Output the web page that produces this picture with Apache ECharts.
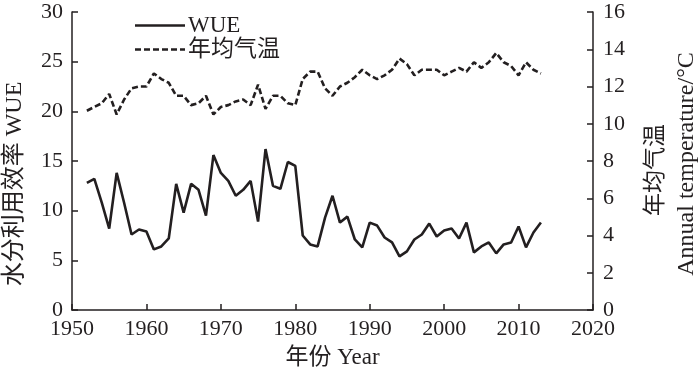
<!DOCTYPE html>
<html><head><meta charset="utf-8">
<script src="https://cdn.jsdelivr.net/npm/echarts@6/dist/echarts.min.js"></script>
<style>html,body{margin:0;padding:0;background:#fff}#c{width:700px;height:375px}</style>
</head><body><div id="c"></div>
<script>
var years = [];
for (var y = 1952; y <= 2013; y++) years.push(y);
var wue = [12.8,13.2,10.8,8.2,13.8,10.8,7.6,8.1,7.9,6.1,6.4,7.2,12.7,9.8,12.7,12.1,9.5,15.6,13.8,13.0,11.5,12.1,13.0,8.9,16.2,12.5,12.2,14.9,14.5,7.5,6.6,6.4,9.3,11.5,8.8,9.4,7.1,6.3,8.8,8.5,7.3,6.8,5.4,5.9,7.1,7.6,8.7,7.4,8.0,8.2,7.2,8.8,5.8,6.4,6.8,5.7,6.6,6.8,8.4,6.3,7.8,8.8];
var temp = [10.7,10.9,11.1,11.6,10.5,11.3,11.9,12.0,12.0,12.7,12.4,12.2,11.5,11.5,11.0,11.1,11.5,10.5,10.9,11.0,11.2,11.3,11.0,12.1,10.8,11.5,11.5,11.1,11.0,12.4,12.8,12.8,11.9,11.5,12.0,12.2,12.5,12.9,12.6,12.4,12.6,12.9,13.5,13.2,12.6,12.9,12.9,12.9,12.6,12.8,13.0,12.8,13.3,13.0,13.3,13.8,13.3,13.1,12.6,13.3,12.9,12.7];
var seriesNames = ['WUE', '年均气温'];
var xAxisName = '年份 Year';
var leftName = '水分利用效率 WUE';
var rightName1 = '年均气温';
var rightName2 = 'Annual temperature/°C';

var ink = '#231f20';
var serif = '"Liberation Serif", "Times New Roman", "Noto Sans CJK SC", serif';
function pairs(vals){ return years.map(function(y,i){ return [y, vals[i]]; }); }

var solidIcon = 'path://M0,0H50V2.6H0Z';
var dashIcon = 'path://M0,0H6V2.6H0Z M9,0H15V2.6H9Z M18,0H24V2.6H18Z M27,0H33V2.6H27Z M36,0H42V2.6H36Z M45,0H50V2.6H45Z';

var chart = echarts.init(document.getElementById('c'), null, {renderer:'canvas'});
chart.setOption({
  animation: false,
  backgroundColor: '#fff',
  textStyle: {fontFamily: serif, color: ink},
  grid: {left: 72, right: 107, top: 12, bottom: 65},
  legend: {
    orient: 'vertical', left: 130, top: 9, itemWidth: 50, itemHeight: 2.6, itemGap: 1,
    textStyle: {fontSize: 23, color: ink, fontFamily: serif, padding: [0,0,0,-2]},
    data: [{name: seriesNames[0], icon: solidIcon}, {name: seriesNames[1], icon: dashIcon}]
  },
  xAxis: {
    type: 'value', min: 1950, max: 2020, interval: 10,
    name: xAxisName, nameLocation: 'middle', nameGap: 36,
    nameTextStyle: {fontSize: 23, color: ink, fontFamily: serif},
    axisLine: {lineStyle: {color: ink, width: 1.5}},
    axisTick: {inside: true, length: 6, lineStyle: {color: ink, width: 1.5}},
    axisLabel: {fontSize: 22, color: ink, margin: 8, fontFamily: serif, formatter: function(v){ return String(v); }},
    splitLine: {show: false}
  },
  yAxis: [{
    type: 'value', min: 0, max: 30, interval: 5,
    axisLine: {show: true, lineStyle: {color: ink, width: 1.5}},
    axisTick: {show: true, inside: true, length: 6, lineStyle: {color: ink, width: 1.5}},
    axisLabel: {fontSize: 22, color: ink, margin: 9, fontFamily: serif},
    splitLine: {show: false}
  }, {
    type: 'value', min: 0, max: 16, interval: 2, position: 'right',
    axisLine: {show: true, lineStyle: {color: ink, width: 1.5}},
    axisTick: {show: true, inside: true, length: 6, lineStyle: {color: ink, width: 1.5}},
    axisLabel: {fontSize: 22, color: ink, margin: 10, fontFamily: serif},
    splitLine: {show: false}
  }],
  graphic: [
    {type: 'text', x: 15, y: 184, rotation: Math.PI/2,
     style: {text: leftName, fontSize: 24, fill: ink, fontFamily: serif, align: 'center', verticalAlign: 'middle'}},
    {type: 'text', x: 656, y: 170, rotation: Math.PI/2,
     style: {text: rightName1, fontSize: 23, fill: ink, fontFamily: serif, align: 'center', verticalAlign: 'middle'}},
    {type: 'text', x: 687, y: 164, rotation: Math.PI/2,
     style: {text: rightName2, fontSize: 24, fill: ink, fontFamily: serif, align: 'center', verticalAlign: 'middle'}}
  ],
  series: [{
    name: seriesNames[0], type: 'line', yAxisIndex: 0, data: pairs(wue),
    symbol: 'none', color: ink,
    lineStyle: {color: ink, width: 2.6, type: 'solid'}
  }, {
    name: seriesNames[1], type: 'line', yAxisIndex: 1, data: pairs(temp),
    symbol: 'none', color: ink,
    lineStyle: {color: ink, width: 2.6, type: [6, 3]}
  }]
});
</script>
</body></html>
